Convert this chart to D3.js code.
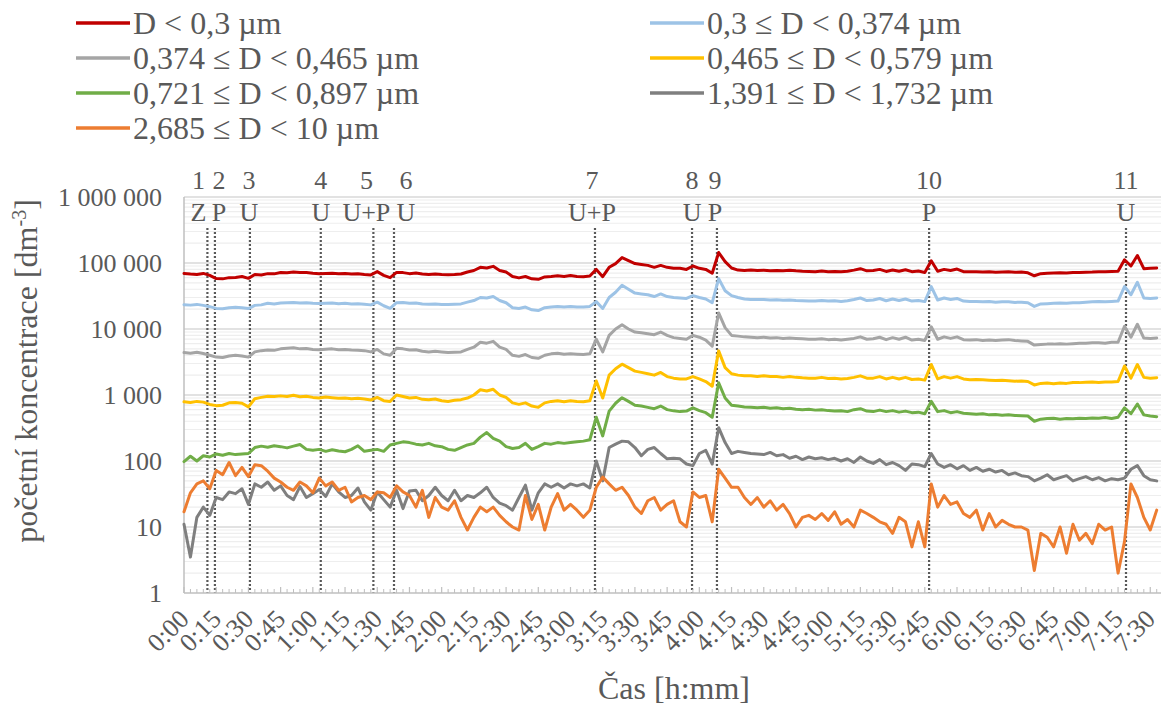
<!DOCTYPE html>
<html><head><meta charset="utf-8">
<script src="https://cdn.jsdelivr.net/npm/d3@7"></script>
<style>
body{margin:0;background:#fff;}
</style>
</head><body>
<svg id="chart" width="1162" height="709" font-family="Liberation Serif"></svg>
<script>
// ---------- DATA ----------
const timeMinutes = [
 0,3,6,9,12,15,18,21,24,27, 30,33,36,39,42,45,48,51,54,57,
 60,63,66,69,72,75,78,81,84,87, 90,93,96,99,102,105,108,111,114,117,
 120,123,126,129,132,135,138,141,144,147, 150,153,156,159,162,165,168,171,174,177,
 180,183,186,189,192,195,198,201,204,207, 210,213,216,219,222,225,228,231,234,237,
 240,243,246,249,252,255,258,261,264,267, 270,273,276,279,282,285,288,291,294,297,
 300,303,306,309,312,315,318,321,324,327, 330,333,336,339,342,345,348,351,354,357,
 360,363,366,369,372,375,378,381,384,387, 390,393,396,399,402,405,408,411,414,417,
 420,423,426,429,432,435,438,441,444,447, 450,453];

const seriesNames = [
 "D < 0,3 µm", "0,3 ≤ D < 0,374 µm",
 "0,374 ≤ D < 0,465 µm", "0,465 ≤ D < 0,579 µm",
 "0,721 ≤ D < 0,897 µm", "1,391 ≤ D < 1,732 µm",
 "2,685 ≤ D < 10 µm"];

const sRed = [
 69500,68000,67000,69500,65000,58000,57500,60000,60500,62500,
 58500,67000,66000,69000,68500,72000,71000,73000,71500,72000,
 70000,69000,69500,70000,68500,69500,68000,68500,67000,66000,
 74000,65000,60000,72000,71500,69000,70500,68000,67000,68000,
 67000,66500,67000,68000,73000,77000,86000,84000,89000,77000,
 73000,62500,59500,62500,57500,56500,61500,62500,64000,62500,
 64500,62500,62000,63500,80000,62000,86000,98000,121000,109000,
 98000,95000,92000,86000,92000,86000,83000,83000,80000,90000,
 83000,80000,70000,144000,105000,84000,78000,77000,78000,77000,
 77500,76000,77000,76500,77500,76000,75000,74500,74000,75500,
 74000,74500,73500,75000,78000,82000,76000,77000,80000,74500,
 78500,75000,79000,74000,75500,72000,108000,75000,80000,77000,
 81000,74000,73500,74000,73000,73500,72500,73000,73500,72500,
 73000,71000,64000,69000,70000,70500,71000,70500,72000,71500,
 72500,73000,74000,73500,74500,75000,112000,90000,130000,82000,
 83000,84000];

const sBlue = [
 23400,23000,23600,22800,21800,20500,20300,21000,21300,21000,
 20400,22800,23200,24500,24000,24800,25000,25300,24800,25000,
 24500,24300,24500,24800,24200,24500,24000,24200,23800,23200,
 25500,22500,20600,25000,25200,24500,24800,24000,23800,24000,
 23500,23500,23800,24000,25500,27000,30000,29500,31000,27000,
 25000,21000,20500,21500,19500,19000,21000,21500,22000,21500,
 22000,21500,21500,22000,26000,20500,30000,36000,46000,40000,
 35000,34000,33000,31000,34000,31000,30000,29500,29000,32000,
 30000,28500,25000,58000,38000,32000,30000,28500,28000,28000,
 28000,27500,27800,27200,27500,27000,26800,26500,26500,27000,
 26500,26800,26200,26800,28000,29500,27000,27500,29000,26800,
 28500,27000,28500,26500,27000,26000,44000,27500,29500,28000,
 29000,26500,26000,26200,25800,26000,25500,25800,25800,25300,
 25500,25000,22000,24000,24200,24500,24800,24500,25000,25000,
 25500,25800,26000,25800,26200,26500,44000,33000,51000,29500,
 29000,29500];

const sLightGray = [
 4400,4300,4450,4250,4000,3750,3700,3900,4000,3900,
 3750,4500,4700,4800,4750,5000,5100,5200,5000,5050,
 4900,4850,4950,5000,4850,4900,4800,4750,4700,4500,
 4900,4200,4000,5100,5000,4800,4850,4600,4500,4600,
 4500,4400,4450,4500,4900,5300,6300,6100,6500,5300,
 4900,4000,3850,4100,3700,3600,4000,4200,4300,4150,
 4200,4150,4100,4200,7000,4500,8000,10000,11600,10000,
 9000,8800,8500,8200,9000,8000,7400,7200,7000,8000,
 7500,6800,5500,17500,10500,8000,7800,7600,7500,7400,
 7500,7300,7400,7200,7300,7200,7100,7000,7000,7100,
 6900,7000,6800,7000,7200,7600,7000,7100,7500,6900,
 7400,7000,7500,6800,7000,6700,10800,7000,7600,7200,
 7600,6900,6800,6900,6700,6800,6700,6800,6900,6700,
 6600,6500,5700,5800,5900,5900,6000,5900,6000,6100,
 6100,6200,6200,6100,6300,6300,11000,7500,11800,7300,
 7200,7300];

const sYellow = [
 790,770,800,780,720,690,700,760,770,750,
 660,880,920,960,950,970,950,990,940,960,
 920,900,930,910,890,900,880,890,870,840,
 920,820,800,1000,950,900,920,860,850,870,
 820,800,830,850,900,1000,1200,1150,1220,1000,
 920,760,720,760,680,650,760,800,820,790,
 820,800,790,820,1630,900,2000,2500,2930,2600,
 2300,2200,2100,2000,2200,1900,1800,1750,1750,1900,
 1750,1600,1360,4660,2600,2100,2000,1950,1950,1900,
 1950,1900,1900,1850,1900,1850,1820,1800,1800,1850,
 1780,1800,1750,1780,1850,1950,1800,1800,1900,1750,
 1850,1750,1850,1720,1750,1680,2900,1750,1900,1800,
 1900,1750,1700,1720,1700,1680,1660,1680,1650,1620,
 1630,1600,1420,1500,1520,1480,1520,1500,1550,1540,
 1560,1580,1550,1570,1580,1600,2750,1800,2900,1850,
 1800,1830];

const sGreen = [
 98,118,100,120,115,128,122,130,125,128,
 130,160,168,162,170,165,158,168,178,150,
 145,150,140,148,142,138,150,170,140,145,
 150,140,175,185,195,190,180,175,185,170,
 165,150,145,160,175,185,230,270,220,200,
 165,155,160,185,150,165,185,180,190,185,
 190,195,200,210,460,240,570,750,910,800,
 700,680,650,620,680,600,575,560,570,640,
 580,540,460,1530,900,700,680,660,650,640,
 650,630,640,620,630,610,600,610,590,600,
 580,570,575,560,600,620,570,560,590,560,
 580,550,570,540,550,520,800,560,580,540,
 560,530,520,510,520,500,505,495,500,490,
 485,480,400,430,440,445,430,440,435,445,
 440,450,445,455,440,460,640,520,730,500,
 480,470];

const sDarkGray = [
 11,3.5,14,20,15,28,26,34,32,38,
 22,45,40,48,36,42,30,26,41,28,
 32,37,29,45,34,28,30,39,24,18,
 34,26,20,36,19,35,36,25,30,40,
 30,25,36,25,30,28,33,40,28,23,
 21,18,28,43,18,33,45,40,45,39,
 45,42,45,39,100,50,160,180,200,195,
 160,120,150,160,130,108,110,108,90,85,
 130,145,90,320,190,130,140,135,130,128,
 125,135,120,125,110,118,105,115,108,112,
 105,110,100,108,95,115,100,92,105,88,
 95,85,72,90,88,82,130,90,80,88,
 76,85,72,80,70,75,68,72,62,66,
 60,58,50,55,62,52,56,60,50,54,
 58,52,56,50,54,52,55,75,85,60,
 52,50];

const sOrange = [
 17,33,45,50,38,72,62,95,60,80,
 58,88,85,70,55,48,40,36,48,42,
 33,55,42,48,36,40,24,28,30,26,
 34,33,28,42,34,30,20,36,14,28,
 20,18,25,14,9,14,20,17,20,15,
 12,10,9,30,13,22,9,20,32,18,
 22,18,14,18,40,57,45,36,40,30,
 20,16,25,28,18,22,25,12,10,34,
 28,30,12,75,55,40,40,28,22,28,
 20,25,18,22,16,10,14,15,13,16,
 12.6,17,11,13,10,18,16,14,12,11,
 8,14,12,5,12,5,45,20,30,22,
 24,16,14,18,9,16,10,12.6,11,10,
 10,9,2.2,8,7,5,10,4,11,6.3,
 8,5.6,11,9,10,2,6,45,28,14,
 9,18];

const seriesValues = [sRed, sBlue, sLightGray, sYellow, sGreen, sDarkGray, sOrange];
const seriesColors = ["#C00000", "#9DC3E6", "#A5A5A5", "#FFC000", "#70AD47", "#7F7F7F", "#ED7D31"];

const eventTimes = [10.9, 14.4, 30.7, 63.7, 88.2, 97.8, 191.4, 236.6, 248.2, 347, 438.7];
const eventNumbers = ["1","2","3","4","5","6","7","8","9","10","11"];
const eventTypes = ["Z","P","U","U","U+P","U","U+P","U","P","P","U"];

const xTickLabels = ["0:00","0:15","0:30","0:45","1:00","1:15","1:30","1:45","2:00","2:15","2:30","2:45",
 "3:00","3:15","3:30","3:45","4:00","4:15","4:30","4:45","5:00","5:15","5:30","5:45",
 "6:00","6:15","6:30","6:45","7:00","7:15","7:30"];
const yTickValues = [1, 10, 100, 1000, 10000, 100000, 1000000];
const yTickLabels = ["1", "10", "100", "1 000", "10 000", "100 000", "1 000 000"];

const yTitle = "početní koncentrace [dm";
const yTitleSup = "-3";
const xTitle = "Čas [h:mm]";

seriesValues.forEach((s, i) => {
  if (s.length !== timeMinutes.length) throw new Error("series " + i + " length " + s.length);
});

// ---------- LAYOUT ----------
const plot = {left: 184, right: 1161, top: 197, bottom: 593};
const eventLabelDx = [-9, 4, -1, 0, -7, 12, -3, 0, -2, 0, 0];
const textColor = "#595959";

const svg = d3.select("#chart");
const x = d3.scaleLinear().domain([0, 455]).range([plot.left, plot.right]);
const y = d3.scaleLog().domain([1, 1e6]).range([plot.bottom, plot.top]);

// gridlines
const minorVals = [];
for (let d = 1; d < 1e6; d *= 10) for (let m = 2; m <= 9; m++) minorVals.push(d * m);
svg.append("g").selectAll("line").data(minorVals).join("line")
  .attr("x1", plot.left).attr("x2", plot.right)
  .attr("y1", d => y(d)).attr("y2", d => y(d))
  .attr("stroke", "#eeeeee").attr("stroke-width", 1.2);
svg.append("g").selectAll("line").data(yTickValues.slice(1)).join("line")
  .attr("x1", plot.left).attr("x2", plot.right)
  .attr("y1", d => y(d)).attr("y2", d => y(d))
  .attr("stroke", "#d9d9d9").attr("stroke-width", 1.5);

// event lines
svg.append("g").selectAll("line").data(eventTimes).join("line")
  .attr("x1", d => x(d)).attr("x2", d => x(d))
  .attr("y1", 228).attr("y2", plot.bottom)
  .attr("stroke", "#595959").attr("stroke-width", 2.2)
  .attr("stroke-dasharray", "2,2");

// axes
const xTickMinor = timeMinutes.filter(t => t % 15 !== 0);
const xTickMajor = xTickLabels.map((_, i) => i * 15);
const axisColor = "#bfbfbf";
svg.append("line").attr("x1", plot.left).attr("x2", plot.left)
  .attr("y1", plot.top).attr("y2", plot.bottom).attr("stroke", axisColor).attr("stroke-width", 1.5);
svg.append("g").selectAll("line").data(xTickMinor).join("line")
  .attr("x1", d => x(d)).attr("x2", d => x(d)).attr("y1", plot.bottom).attr("y2", plot.bottom - 4)
  .attr("stroke", axisColor).attr("stroke-width", 1);
svg.append("g").selectAll("line").data(xTickMajor).join("line")
  .attr("x1", d => x(d)).attr("x2", d => x(d)).attr("y1", plot.bottom).attr("y2", plot.bottom - 6)
  .attr("stroke", axisColor).attr("stroke-width", 1.2);
svg.append("line").attr("x1", plot.left).attr("x2", plot.right)
  .attr("y1", plot.bottom).attr("y2", plot.bottom).attr("stroke", axisColor).attr("stroke-width", 1.5);

// y tick labels
svg.append("g").selectAll("text").data(yTickValues).join("text")
  .attr("x", 162).attr("y", d => y(d)).attr("dy", "0.35em")
  .attr("text-anchor", "end").attr("font-size", 26).attr("fill", textColor)
  .text((d, i) => yTickLabels[i]);

// x tick labels
svg.append("g").selectAll("text").data(xTickMajor).join("text")
  .attr("transform", d => `translate(${x(d)},614) rotate(-45)`)
  .attr("dy", "0.35em").attr("text-anchor", "end").attr("font-size", 26).attr("fill", textColor)
  .text((d, i) => xTickLabels[i]);

// series
const line = d3.line().x((d, i) => x(timeMinutes[i])).y(d => y(d)).curve(d3.curveLinear);
svg.append("g").selectAll("path").data(seriesValues).join("path")
  .attr("d", d => line(d)).attr("fill", "none")
  .attr("stroke", (d, i) => seriesColors[i]).attr("stroke-width", 3)
  .attr("stroke-linejoin", "round").attr("stroke-linecap", "round");

// event labels
const ev = svg.append("g").attr("fill", textColor);
ev.selectAll("text.num").data(eventTimes).join("text").attr("class", "num")
  .attr("x", (d, i) => x(d) + eventLabelDx[i]).attr("y", 180).attr("dy", "0.35em")
  .attr("text-anchor", "middle").attr("font-size", 26).text((d, i) => eventNumbers[i]);
ev.selectAll("text.typ").data(eventTimes).join("text").attr("class", "typ")
  .attr("x", (d, i) => x(d) + eventLabelDx[i]).attr("y", 212).attr("dy", "0.35em")
  .attr("text-anchor", "middle").attr("font-size", 26).text((d, i) => eventTypes[i]);

// axis titles
const yt = svg.append("text").attr("transform", "translate(37,371) rotate(-90)")
  .attr("text-anchor", "middle").attr("font-size", 32).attr("fill", textColor);
yt.append("tspan").text(yTitle);
yt.append("tspan").attr("baseline-shift", "super").attr("font-size", 20).text(yTitleSup);
yt.append("tspan").text("]");
svg.append("text").attr("x", 674).attr("y", 699).attr("text-anchor", "middle")
  .attr("font-size", 32).attr("fill", textColor).text(xTitle);

// legend
const legendCols = [76, 650];
const legendRows = [23, 58, 93, 128];
const lg = svg.append("g");
seriesNames.forEach((name, i) => {
  const lx = legendCols[i % 2], ly = legendRows[Math.floor(i / 2)];
  lg.append("line").attr("x1", lx).attr("x2", lx + 54).attr("y1", ly).attr("y2", ly)
    .attr("stroke", seriesColors[i]).attr("stroke-width", 3.5);
  lg.append("text").attr("x", lx + 57).attr("y", ly).attr("dy", "0.35em")
    .attr("font-size", 32).attr("fill", textColor).text(name);
});
</script>
</body></html>
